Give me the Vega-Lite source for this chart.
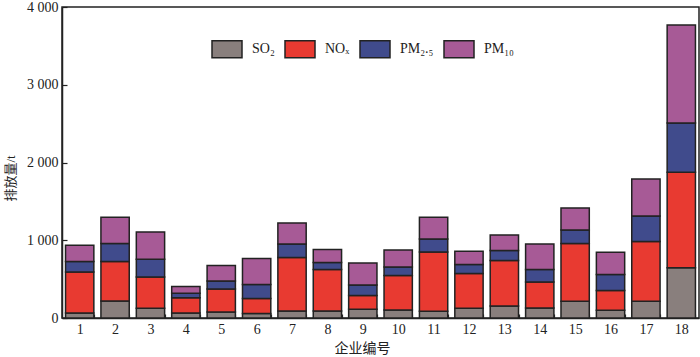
{
  "$schema": "https://vega.github.io/schema/vega-lite/v6.json",
  "width": 637,
  "height": 311,
  "autosize": {"type": "none"},
  "padding": {"left": 62, "top": 7, "right": 1, "bottom": 39},
  "background": "white",
  "config": {
    "view": {"stroke": "#222", "strokeWidth": 1.5},
    "font": "Liberation Serif",
    "axis": {"domainColor": "#222", "domainWidth": 1.5, "tickColor": "#222", "tickWidth": 1.2, "labelColor": "#222", "titleColor": "#222", "grid": false}
  },
  "datasets": {
    "ranks": [
      {"pollutant": "SO2", "rank": 1},
      {"pollutant": "NOx", "rank": 2},
      {"pollutant": "PM2.5", "rank": 3},
      {"pollutant": "PM10", "rank": 4}
    ]
  },
  "data": {
    "values": [
      {"id": "1", "SO2": 64, "NOx": 528, "PM2.5": 134, "PM10": 210},
      {"id": "2", "SO2": 219, "NOx": 507, "PM2.5": 231, "PM10": 339},
      {"id": "3", "SO2": 125, "NOx": 403, "PM2.5": 227, "PM10": 352},
      {"id": "4", "SO2": 64, "NOx": 198, "PM2.5": 56, "PM10": 86},
      {"id": "5", "SO2": 77, "NOx": 296, "PM2.5": 103, "PM10": 198},
      {"id": "6", "SO2": 57, "NOx": 193, "PM2.5": 180, "PM10": 334},
      {"id": "7", "SO2": 90, "NOx": 687, "PM2.5": 175, "PM10": 271},
      {"id": "8", "SO2": 90, "NOx": 533, "PM2.5": 90, "PM10": 167},
      {"id": "9", "SO2": 112, "NOx": 176, "PM2.5": 137, "PM10": 283},
      {"id": "10", "SO2": 103, "NOx": 443, "PM2.5": 110, "PM10": 219},
      {"id": "11", "SO2": 86, "NOx": 763, "PM2.5": 168, "PM10": 279},
      {"id": "12", "SO2": 125, "NOx": 446, "PM2.5": 116, "PM10": 171},
      {"id": "13", "SO2": 154, "NOx": 585, "PM2.5": 128, "PM10": 201},
      {"id": "14", "SO2": 129, "NOx": 334, "PM2.5": 160, "PM10": 329},
      {"id": "15", "SO2": 215, "NOx": 742, "PM2.5": 176, "PM10": 283},
      {"id": "16", "SO2": 99, "NOx": 254, "PM2.5": 205, "PM10": 289},
      {"id": "17", "SO2": 215, "NOx": 768, "PM2.5": 330, "PM10": 476},
      {"id": "18", "SO2": 647, "NOx": 1228, "PM2.5": 632, "PM10": 1260}
    ]
  },
  "transform": [
    {"fold": ["SO2", "NOx", "PM2\\.5", "PM10"], "as": ["pollutant", "value"]},
    {"lookup": "pollutant", "from": {"data": {"name": "ranks"}, "key": "pollutant", "fields": ["rank"]}}
  ],
  "mark": {"type": "bar", "stroke": "#222", "strokeWidth": 1.5},
  "encoding": {
    "x": {
      "field": "id", "type": "ordinal", "sort": null,
      "scale": {"paddingInner": 0.2, "paddingOuter": 0.1},
      "axis": {
        "title": "企业编号", "titleFont": "Liberation Serif, Noto Sans CJK SC", "titleFontSize": 14, "titleFontWeight": "normal",
        "titleX": 300, "titleY": 30, "titleBaseline": "middle", "titleAlign": "center",
        "labelAngle": 0, "labelFontSize": 14, "labelPadding": 8,
        "tickBand": "extent", "tickSize": -4
      }
    },
    "y": {
      "field": "value", "type": "quantitative", "stack": "zero",
      "scale": {"domain": [0, 4000], "nice": false},
      "axis": {
        "title": "排放量/t", "titleFont": "Liberation Serif, Noto Sans CJK SC", "titleFontSize": 13, "titleFontWeight": "normal",
        "titleX": -52, "titleY": 171, "titleBaseline": "middle", "titleAlign": "center",
        "values": [0, 1000, 2000, 3000, 4000],
        "labelExpr": "replace(format(datum.value, ','), ',', ' ')",
        "labelFontSize": 14, "labelPadding": 9, "tickSize": -5
      }
    },
    "order": {"field": "rank", "type": "quantitative", "sort": "ascending"},
    "color": {
      "field": "pollutant", "type": "nominal",
      "sort": ["SO2", "NOx", "PM2.5", "PM10"],
      "scale": {"domain": ["SO2", "NOx", "PM2.5", "PM10"], "range": ["#897f7d", "#e83a31", "#404b8c", "#a75a96"]},
      "legend": {
        "orient": "none", "legendX": 149, "legendY": 26, "direction": "horizontal", "columns": 4,
        "title": null, "padding": 0,
        "symbolType": "M-1,-0.57H1V0.57H-1Z", "symbolSize": 900,
        "symbolStrokeColor": "#222", "symbolStrokeWidth": 1.5, "symbolOpacity": 1,
        "labelFontSize": 14, "labelColor": "#222", "labelOffset": 9, "columnPadding": 7,
        "labelExpr": "datum.label == 'SO2' ? 'SO₂' : datum.label == 'NOx' ? 'NOₓ' : datum.label == 'PM2.5' ? 'PM₂.₅' : 'PM₁₀'"
      }
    }
  }
}
